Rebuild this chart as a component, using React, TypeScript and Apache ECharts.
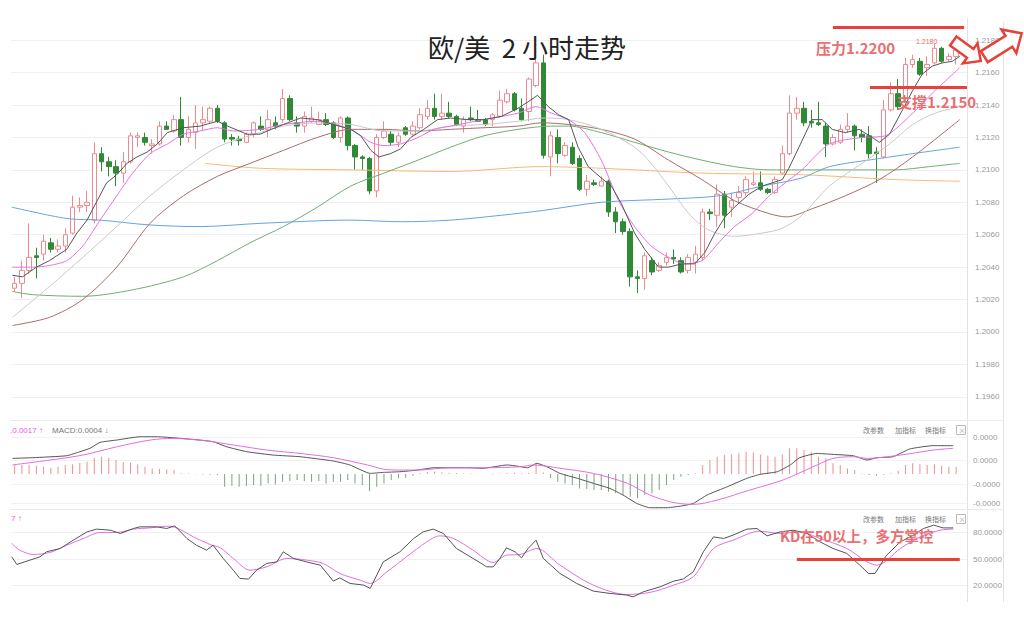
import React, { useEffect, useRef } from "react";
import * as echarts from "echarts";

// ---------- candles (EUR/USD, 2h) ----------
const opens = [
  1.2027, 1.2030, 1.2038, 1.2047, 1.2048, 1.2055, 1.2051, 1.2053, 1.2061, 1.2077,
  1.2078, 1.2069, 1.2110, 1.2105, 1.2102, 1.2098, 1.2105, 1.2120, 1.2120, 1.2115,
  1.2116, 1.2127, 1.2124, 1.2131, 1.2120, 1.2123, 1.2129, 1.2130, 1.2138, 1.2129,
  1.2120, 1.2119, 1.2117, 1.2122, 1.2127, 1.2125, 1.2129, 1.2131, 1.2144, 1.2129,
  1.2127, 1.2130, 1.2128, 1.2131, 1.2129, 1.2120, 1.2132, 1.2115, 1.2108, 1.2107,
  1.2087, 1.2120, 1.2122, 1.2117, 1.2126, 1.2122, 1.2126, 1.2133, 1.2138, 1.2133,
  1.2135, 1.2133, 1.2127, 1.2132, 1.2131, 1.2131, 1.2131, 1.2133, 1.2142, 1.2147,
  1.2138, 1.2136, 1.2152, 1.2166, 1.2108, 1.2120, 1.2109, 1.2114, 1.2107, 1.2088,
  1.2092, 1.2090, 1.2093, 1.2074, 1.2068, 1.2062, 1.2034, 1.2033, 1.2044, 1.2038,
  1.2043, 1.2046, 1.2044, 1.2038, 1.2043, 1.2046, 1.2074, 1.2072, 1.2085, 1.2077,
  1.2083, 1.2086, 1.2091, 1.2092, 1.2088, 1.2086, 1.2098, 1.2110, 1.2135, 1.2138,
  1.2130, 1.2129, 1.2127, 1.2116, 1.2117, 1.2125, 1.2127, 1.2122, 1.2121, 1.2111,
  1.2108, 1.2137, 1.2147, 1.2144, 1.2165, 1.2167, 1.2163, 1.2166, 1.2175, 1.2168,
  1.2170,
];
const closes = [
  1.2030, 1.2038, 1.2046, 1.2046, 1.2056, 1.2051, 1.2053, 1.2060, 1.2077, 1.2078,
  1.2080, 1.2110, 1.2105, 1.2102, 1.2098, 1.2105, 1.2121, 1.2121, 1.2117, 1.2116,
  1.2127, 1.2125, 1.2131, 1.2120, 1.2125, 1.2129, 1.2131, 1.2138, 1.2130, 1.2119,
  1.2119, 1.2118, 1.2122, 1.2129, 1.2125, 1.2131, 1.2127, 1.2144, 1.2131, 1.2127,
  1.2133, 1.2132, 1.2131, 1.2128, 1.2120, 1.2132, 1.2115, 1.2108, 1.2107, 1.2087,
  1.2120, 1.2124, 1.2117, 1.2121, 1.2122, 1.2127, 1.2134, 1.2138, 1.2133, 1.2135,
  1.2133, 1.2128, 1.2131, 1.2131, 1.2130, 1.2128, 1.2134, 1.2143, 1.2147, 1.2137,
  1.2131, 1.2156, 1.2166, 1.2109, 1.2121, 1.2110, 1.2115, 1.2104, 1.2088, 1.2093,
  1.2091, 1.2093, 1.2074, 1.2068, 1.2062, 1.2034, 1.2033, 1.2047, 1.2037, 1.2041,
  1.2046, 1.2045, 1.2037, 1.2046, 1.2048, 1.2074, 1.2073, 1.2085, 1.2072, 1.2081,
  1.2086, 1.2094, 1.2092, 1.2088, 1.2086, 1.2094, 1.2110, 1.2135, 1.2138, 1.2129,
  1.2129, 1.2128, 1.2116, 1.2120, 1.2125, 1.2127, 1.2121, 1.2120, 1.2110, 1.2110,
  1.2137, 1.2147, 1.2139, 1.2165, 1.2168, 1.2159, 1.2165, 1.2175, 1.2167, 1.2170,
  1.2174,
];
const lows = [
  1.2025, 1.2021, 1.2036, 1.2033, 1.2044, 1.2049, 1.2049, 1.2049, 1.2060, 1.2074,
  1.2074, 1.2067, 1.2099, 1.2096, 1.2090, 1.2092, 1.2104, 1.2114, 1.2115, 1.2110,
  1.2115, 1.2125, 1.2123, 1.2115, 1.2117, 1.2113, 1.2124, 1.2129, 1.2129, 1.2117,
  1.2115, 1.2115, 1.2117, 1.2120, 1.2124, 1.2120, 1.2125, 1.2129, 1.2130, 1.2123,
  1.2123, 1.2129, 1.2128, 1.2127, 1.2119, 1.2117, 1.2112, 1.2100, 1.2100, 1.2085,
  1.2083, 1.2119, 1.2115, 1.2114, 1.2121, 1.2121, 1.2125, 1.2131, 1.2131, 1.2131,
  1.2132, 1.2127, 1.2123, 1.2130, 1.2130, 1.2127, 1.2127, 1.2132, 1.2141, 1.2136,
  1.2130, 1.2130, 1.2151, 1.2107, 1.2096, 1.2104, 1.2108, 1.2103, 1.2087, 1.2084,
  1.2090, 1.2090, 1.2071, 1.2061, 1.2060, 1.2028, 1.2024, 1.2026, 1.2035, 1.2037,
  1.2041, 1.2042, 1.2036, 1.2036, 1.2036, 1.2044, 1.2069, 1.2065, 1.2064, 1.2071,
  1.2080, 1.2084, 1.2090, 1.2087, 1.2085, 1.2085, 1.2097, 1.2109, 1.2131, 1.2127,
  1.2126, 1.2127, 1.2108, 1.2115, 1.2116, 1.2123, 1.2112, 1.2117, 1.2107, 1.2092,
  1.2107, 1.2136, 1.2137, 1.2142, 1.2163, 1.2158, 1.2158, 1.2165, 1.2166, 1.2167,
  1.2165,
];
const highs = [
  1.2034, 1.2044, 1.2067, 1.2052, 1.2060, 1.2058, 1.2057, 1.2064, 1.2084, 1.2083,
  1.2087, 1.2117, 1.2114, 1.2108, 1.2106, 1.2111, 1.2123, 1.2123, 1.2123, 1.2119,
  1.2130, 1.2130, 1.2134, 1.2145, 1.2133, 1.2140, 1.2139, 1.2139, 1.2140, 1.2130,
  1.2122, 1.2121, 1.2123, 1.2130, 1.2133, 1.2137, 1.2133, 1.2150, 1.2146, 1.2133,
  1.2136, 1.2139, 1.2136, 1.2135, 1.2130, 1.2133, 1.2133, 1.2116, 1.2109, 1.2108,
  1.2122, 1.2130, 1.2124, 1.2123, 1.2127, 1.2130, 1.2138, 1.2143, 1.2147, 1.2147,
  1.2142, 1.2134, 1.2133, 1.2139, 1.2137, 1.2132, 1.2135, 1.2149, 1.2150, 1.2148,
  1.2144, 1.2157, 1.2170, 1.2171, 1.2124, 1.2125, 1.2117, 1.2117, 1.2109, 1.2097,
  1.2094, 1.2096, 1.2094, 1.2077, 1.2070, 1.2064, 1.2038, 1.2049, 1.2046, 1.2043,
  1.2049, 1.2051, 1.2046, 1.2048, 1.2053, 1.2076, 1.2076, 1.2091, 1.2087, 1.2086,
  1.2090, 1.2096, 1.2099, 1.2099, 1.2089, 1.2096, 1.2115, 1.2146, 1.2145, 1.2142,
  1.2137, 1.2142, 1.2129, 1.2122, 1.2128, 1.2135, 1.2128, 1.2125, 1.2127, 1.2114,
  1.2143, 1.2154, 1.2156, 1.2169, 1.2171, 1.2169, 1.2170, 1.2178, 1.2176, 1.2172,
  1.2180,
];
const SLOT_COUNT = 132; // 131 candles + one empty slot at the right edge
const slotLabels = Array.from({ length: SLOT_COUNT }, (_, i) => String(i + 1));

// ---------- moving averages: [candle index, price] ----------
const ma5 = [
  [-0.3, 1.2035], [1.1, 1.2034], [3, 1.204], [4.8, 1.2044], [7.2, 1.2051], [8.6, 1.2061], [10, 1.2069],
  [11.4, 1.2081], [12.7, 1.2092], [14.1, 1.2097], [15.5, 1.2104], [16.9, 1.2108], [18.3, 1.2111],
  [19.7, 1.2116], [21.1, 1.2123], [23.3, 1.2126], [25.6, 1.2127], [28, 1.213], [29.4, 1.2127],
  [32.1, 1.2122], [33.9, 1.2122], [34.9, 1.2124], [37.1, 1.2128], [39.5, 1.2132], [41.8, 1.2131],
  [44, 1.2128], [46.4, 1.2125], [47.8, 1.2121], [49.2, 1.2112], [50.3, 1.2108], [51.9, 1.211],
  [53.3, 1.2113], [54.7, 1.212], [56.5, 1.2125], [58.4, 1.2131], [60.2, 1.2132], [62.6, 1.2131],
  [64.8, 1.2131], [67.2, 1.2133], [69.5, 1.2138], [70.9, 1.2142], [72.2, 1.2146], [73.7, 1.2139],
  [75.1, 1.2134], [76.5, 1.2131], [77.8, 1.2114], [79.2, 1.2102], [81, 1.2095], [82.4, 1.209],
  [83.8, 1.2079], [85.6, 1.2061], [87, 1.2051], [88.9, 1.204], [90.3, 1.204], [92.1, 1.2042],
  [93.9, 1.2042], [95.3, 1.2049], [96.7, 1.2061], [98.1, 1.2071], [99.4, 1.2077], [101.4, 1.2085],
  [103.2, 1.209], [104.6, 1.2092], [106, 1.2094], [106.9, 1.2101], [108.3, 1.2114], [110.1, 1.2131],
  [111.5, 1.2131], [112.9, 1.2125], [114.7, 1.2123], [116.6, 1.2125], [118.4, 1.212], [119.4, 1.2117],
  [120.8, 1.2122], [122.6, 1.2137], [124, 1.2149], [125.3, 1.2159], [126.7, 1.2164], [128.1, 1.2166],
  [129.5, 1.2167], [130.5, 1.217],
];
const ma10 = [
  [-0.3, 1.204], [2.5, 1.204], [4.8, 1.2041], [7.2, 1.2044], [9.4, 1.2053], [11.8, 1.2069], [14.1, 1.2084],
  [16.3, 1.2098], [18.7, 1.211], [21.1, 1.2116], [23.3, 1.2122], [25.6, 1.2124], [28, 1.2126],
  [30.2, 1.2124], [33.9, 1.2125], [37.1, 1.2128], [41.8, 1.213], [46.4, 1.2125], [49.2, 1.2117],
  [51, 1.2115], [53.3, 1.2116], [55.7, 1.212], [57.9, 1.2125], [60.2, 1.2127], [64.8, 1.2131],
  [69.5, 1.2135], [72, 1.2139], [74.1, 1.2135], [76.5, 1.2131], [78.7, 1.2123], [81, 1.2106],
  [83.4, 1.2081], [85.6, 1.2065], [87.9, 1.2053], [90.3, 1.2046], [92.5, 1.2042], [94.9, 1.2044],
  [97.2, 1.2055], [99.4, 1.2065], [101.8, 1.2073], [104.2, 1.2084], [106.4, 1.2092], [108.7, 1.21],
  [112.5, 1.2116], [117, 1.212], [120.2, 1.2121], [124, 1.2135], [127.1, 1.2149], [130.5, 1.2163],
];
const ma20 = [
  [-0.3, 1.2009], [4.8, 1.2028], [9.4, 1.2046], [14.1, 1.2065], [18.7, 1.2084], [23.3, 1.21], [28, 1.2114],
  [33.9, 1.2123], [37.1, 1.2127], [41.8, 1.2129], [46.4, 1.2128], [51, 1.2124], [55.7, 1.2124],
  [60.2, 1.2127], [64.8, 1.2128], [69.5, 1.213], [73.1, 1.2132], [76.5, 1.2131], [81, 1.2125],
  [85.6, 1.2114], [87.9, 1.2104], [90.3, 1.209], [93.1, 1.2073], [95.8, 1.2063], [99.4, 1.2059],
  [103.2, 1.2061], [106, 1.2064], [108.7, 1.2072], [112.5, 1.209], [117, 1.2104], [120.8, 1.2116],
  [124, 1.2128], [127.1, 1.2135], [130.5, 1.2139],
];
const ma30 = [
  [-0.3, 1.2004], [4.8, 1.2009], [9.4, 1.202], [14.1, 1.204], [18.7, 1.2067], [23.3, 1.2084], [28, 1.2096],
  [32.5, 1.2104], [37.1, 1.2112], [41.8, 1.212], [46.4, 1.2125], [51, 1.2125], [55.7, 1.2124],
  [60.2, 1.2125], [64.8, 1.2126], [69.5, 1.2127], [72.7, 1.2129], [76.5, 1.2128], [81, 1.2125],
  [85.6, 1.2119], [90.3, 1.2106], [94.9, 1.2094], [99.4, 1.2081], [104.2, 1.2073], [106.6, 1.2071],
  [110.1, 1.2076], [114.7, 1.2084], [119.4, 1.2094], [124, 1.2108], [130.5, 1.2131],
];
const ma60 = [
  [-0.3, 1.2025], [2.5, 1.2023], [9.4, 1.2022], [16.3, 1.2026], [23.3, 1.2034], [28, 1.2044], [32.5, 1.2055],
  [37.1, 1.2065], [41.8, 1.2077], [46.4, 1.209], [51, 1.2098], [55.7, 1.2106], [60.2, 1.2114],
  [64.8, 1.2121], [69.5, 1.2125], [74.1, 1.2127], [76.5, 1.2127], [81, 1.2123], [85.6, 1.2117],
  [90.3, 1.2111], [94.9, 1.2106], [99.4, 1.2102], [104.2, 1.21], [112.5, 1.21], [121.6, 1.21],
  [126.3, 1.2102], [130.5, 1.2104],
];
const ma120 = [
  [-0.4, 1.2077], [7.2, 1.207], [11.8, 1.2069], [18.7, 1.2066], [25.6, 1.2065], [33.9, 1.2067],
  [46.4, 1.2069], [53.3, 1.2068], [60.2, 1.2069], [67.2, 1.2072], [73, 1.2075], [81, 1.208],
  [90.3, 1.2082], [97.2, 1.2084], [103.2, 1.209], [108.7, 1.2095], [112.5, 1.2102], [119.4, 1.2107],
  [124, 1.211], [130.5, 1.2114],
];
const ma200 = [
  [26.3, 1.2104], [33.9, 1.2101], [46.4, 1.21], [60.2, 1.2099], [72.7, 1.2102], [81, 1.2101],
  [94.9, 1.2098], [108.7, 1.2097], [121.6, 1.2094], [130.5, 1.2093],
];
const priceTicks = [1.196, 1.198, 1.2, 1.202, 1.204, 1.206, 1.208, 1.21, 1.212, 1.214, 1.216, 1.218];
const resistanceLine = [[113.0, 1.2188], [131.1, 1.2188]];
const supportLine = [[118.1, 1.2151], [131.5, 1.2151]];

// ---------- MACD ----------
// histogram, in units of 0.0001
const macdHist = [
  5.5, 5.5, 5.5, 5.0, 4.4, 3.8, 4.4, 5.5, 5.9, 6.9, 7.5, 9.9, 10.5, 9.9, 8.5, 7.1, 6.9, 5.9, 4.4, 3.4, 3.0, 2.8, 2.4,
  0.5, 0.3, -0.2, -0.3, -0.5, -0.6,
  -7.7, -7.1, -7.7, -7.3, -6.7, -7.1, -5.7, -6.3, -4.6, -4.2, -3.6, -4.2, -4.6, -4.2, -5.7, -4.6, -4.6, -3.6,
  -5.7, -6.7, -10.3, -7.7, -5.7, -3.6, -2.6, -2.2,
  -1.0, 0.5, 1.2, 1.5, 1.0, 0.8, 0.6, 0.4, 0.3, 0.2, -0.2, -0.3, 0.3, 0.6, 0.8, 0.5, 0.8,
  6.0, 1.0,
  -2.6, -4.6, -5.7, -6.7, -8.7, -9.1, -9.7, -9.7, -10.7, -11.7, -12.7, -13.7, -14.7, -12.7, -11.7, -9.7,
  -6.7, -3.6, -1.6, -0.6,
  0.3,
  5.5, 8.5, 10.5, 11.5, 11.9, 12.5, 13.5, 13.1, 11.9, 11.1, 10.5, 11.9, 15.6, 15.6, 14.5, 13.5, 10.5, 9.5,
  6.5, 5.5, 3.4, 2.4, 0.4,
  -0.6, -1.0, -0.5, 0.5, 2.0, 5.5, 6.5, 5.9, 5.5, 5.9, 5.0, 4.4, 4.4,
];
const difLine = [
  [-0.3, 0.00095], [2.5, 0.00099], [7.2, 0.00111], [9.0, 0.00135], [10.4, 0.00156], [11.8, 0.00192],
  [14.1, 0.00206], [17.3, 0.00226], [19.7, 0.00226], [21.9, 0.0022], [25.6, 0.00206], [27.4, 0.00196],
  [29.3, 0.00165], [32.1, 0.00135], [35.7, 0.00115], [39.4, 0.00105], [44, 0.00079], [46.3, 0.00055],
  [49.1, 0.00004], [50.9, 0.0001], [53.2, 0.00014], [55.6, 0.00024], [57.8, 0.00038], [62.5, 0.00038],
  [64.7, 0.00035], [68, 0.00055], [69.4, 0.00048], [70.8, 0.00038], [72.1, 0.00065], [73.5, 0.00044],
  [75.3, 0.00004], [77.7, -0.00026], [79.9, -0.00056], [82.2, -0.00087], [84, -0.00127], [85.9, -0.00178],
  [87.7, -0.00204], [90.1, -0.00204], [92.3, -0.00192], [93.7, -0.00178], [95.6, -0.00127], [98.4, -0.00077],
  [101.1, -0.00026], [102.9, -0.00002], [105.3, 0.00014], [107.1, 0.00055], [108.4, 0.00099], [110.8, 0.00125],
  [113, 0.00119], [115.8, 0.00111], [117.7, 0.00085], [119.1, 0.00099], [121.3, 0.00105], [123.6, 0.00152],
  [126.8, 0.00172], [129.6, 0.00172],
];
const deaLine = [
  [-0.3, 0.00055], [4.9, 0.00085], [9.4, 0.00115], [14.1, 0.00165], [18.7, 0.00206], [21.9, 0.00216],
  [26.6, 0.002], [30.2, 0.00176], [34.9, 0.00145], [39.4, 0.00125], [44, 0.00099], [48.7, 0.00055],
  [50.9, 0.0003], [53.2, 0.00024], [55.6, 0.00024], [60.1, 0.00038], [64.7, 0.00038], [69.8, 0.00044],
  [71.6, 0.00055], [75.3, 0.00035], [79.9, 0.00004], [84.6, -0.00056], [87.7, -0.00127], [90.9, -0.00172],
  [93.7, -0.00184], [97, -0.00158], [101.5, -0.00097], [106.1, -0.00036], [110.8, 0.00055], [113, 0.00095],
  [115.8, 0.00105], [117.7, 0.00095], [122.3, 0.00115], [126.8, 0.00145], [129.6, 0.00156],
];
const macdTickValues = [0.00224, 0.00082, -0.00061, -0.00176];
const macdTickLabels = ["0.0000", "0.0000", "-0.0000", "-0.0000"];

// ---------- KD ----------
const kLine = [
  [-0.4, 52.6], [0.3, 44.0], [3.5, 52.6], [4.4, 58.3], [6.3, 62.1], [8.1, 71.5], [10, 80.9], [11.3, 84.0],
  [13.2, 82.8], [14.6, 79.1], [16.4, 84.7], [17.3, 86.6], [19.6, 86.6], [21, 84.7], [22.1, 87.7], [23.8, 73.4],
  [25.1, 65.8], [26.5, 60.2], [27.4, 65.8], [28.8, 50.8], [30.2, 37.5], [31.1, 28.2], [32.3, 27.4], [33.4, 37.5],
  [34.8, 45.1], [36.2, 46.9], [37.1, 58.3], [38.5, 50.8], [40.3, 46.9], [42.2, 43.2], [44, 25.1], [44.9, 28.8],
  [46.3, 22.5], [48.2, 20.6], [49.1, 16.8], [50.9, 46.9], [53.2, 58.3], [55.1, 73.4], [56.4, 80.9], [57.8, 84.0],
  [59.2, 79.1], [61, 62.1], [63.3, 50.8], [65.2, 41.3], [66.1, 41.3], [67, 50.8], [67.9, 62.8], [69.1, 58.3],
  [70, 51.5], [70.9, 62.1], [72, 71.5], [73, 50.8], [75.3, 33.8], [77.6, 22.5], [79.9, 13.8], [82.2, 11.2],
  [84.5, 9.3], [85.4, 7.3], [86.8, 13.0], [89.1, 18.6], [91, 25.1], [92.3, 27.4], [93.7, 35.6], [95.1, 58.3],
  [96.5, 75.2], [97.9, 73.4], [99.2, 77.2], [101.1, 84.0], [102.5, 84.7], [103.9, 76.4], [105.7, 80.9],
  [107.5, 82.8], [109.4, 79.1], [111.2, 69.6], [113, 62.1], [114.9, 56.5], [116.7, 43.2], [117.9, 33.8],
  [118.8, 33.8], [120.4, 54.5], [122.3, 69.6], [124.1, 77.2], [125.5, 84.7], [126.9, 88.5], [128.2, 85.4],
  [129.6, 85.4],
];
const dLine = [
  [-0.4, 67.8], [0.7, 60.2], [2.6, 55.3], [4.9, 57.6], [7.2, 65.8], [9.5, 73.4], [11.8, 80.2], [14.1, 80.2],
  [16.4, 84.0], [18.7, 85.4], [21, 87.3], [22.4, 85.4], [24.7, 75.2], [27, 66.6], [28.4, 62.8], [30.2, 50.8],
  [32.5, 37.5], [34.8, 41.3], [37.6, 50.8], [40.3, 48.9], [42.6, 45.1], [44.9, 33.8], [47.7, 26.2], [49.1, 22.5],
  [51.4, 35.6], [54.1, 52.6], [56.9, 69.6], [58.7, 76.4], [60.6, 73.4], [63.3, 60.2], [66.1, 46.3], [67.9, 54.5],
  [69.8, 55.3], [72.1, 62.1], [75.3, 43.2], [79.9, 20.6], [84.5, 10.0], [87.7, 12.3], [91, 20.6], [93.7, 30.0],
  [96.5, 62.1], [99.2, 71.5], [102.9, 81.7], [105.7, 79.1], [108.4, 80.9], [111.2, 73.4], [114.9, 62.1],
  [117.7, 46.9], [119.1, 43.2], [122.3, 62.1], [125, 75.2], [127.8, 82.8], [129.6, 84.0],
];
const kdTicks = [20, 50, 80];
const kdLevelLine = [[108.0, 50], [130.5, 50]];

// ---------- styling ----------
const RED_LINE = "#e8403a";
const NOTE_RED = "#ea6e71";
const LABEL_FONT = "Liberation Sans";

function blockArrow(cx: number, cy: number, len: number, shaftHalf: number, headHalf: number, headLen: number, deg: number) {
  const a = (deg * Math.PI) / 180;
  const c = Math.cos(a);
  const s = Math.sin(a);
  const h = len / 2;
  const local = [
    [-h, -shaftHalf], [h - headLen, -shaftHalf], [h - headLen, -headHalf], [h, 0],
    [h - headLen, headHalf], [h - headLen, shaftHalf], [-h, shaftHalf],
  ];
  return local.map(([x, y]) => [cx + x * c - y * s, cy + x * s + y * c]);
}

function nearestLabel(v: number, values: number[], labels: string[]) {
  let best = 0;
  for (let i = 1; i < values.length; i++) {
    if (Math.abs(values[i] - v) < Math.abs(values[best] - v)) best = i;
  }
  return labels[best];
}

function toolbar(y: number) {
  const st = { fill: "#777", fontSize: 7, fontFamily: "Noto Sans CJK SC" };
  return [
    { type: "text", x: 863, y, style: { ...st, text: "改参数" } },
    { type: "text", x: 895, y, style: { ...st, text: "加指标" } },
    { type: "text", x: 925, y, style: { ...st, text: "换指标" } },
    { type: "rect", shape: { x: 956.5, y: y - 0.5, width: 9, height: 9 }, style: { fill: "#fff", stroke: "#bbb", lineWidth: 1 } },
    { type: "text", x: 958.5, y: y, style: { ...st, text: "×", fill: "#999" } },
  ];
}

export default function App() {
  const ref = useRef<HTMLDivElement>(null);

  useEffect(() => {
    if (!ref.current) return;
    const chart = echarts.init(ref.current, null, { renderer: "svg" });

    const candleData = opens.map((o, i) => [o, closes[i], lows[i], highs[i]]);
    const histData = macdHist.map((v) => ({
      value: v / 10000,
      itemStyle: { color: v >= 0 ? "#ee8e90" : "#7f9f80" },
    }));

    const maLine = (name: string, data: number[][], color: string, smooth: number | boolean) => ({
      name,
      type: "line",
      xAxisIndex: 1,
      yAxisIndex: 0,
      data,
      showSymbol: false,
      smooth,
      lineStyle: { color, width: 1 },
      silent: true,
      z: 3,
    });

    const gridLeft = 11;
    const gridWidth = 956;

    const option: any = {
      animation: false,
      backgroundColor: "#ffffff",
      title: {
        text: "欧/美  2 小时走势",
        left: 423,
        top: 28,
        textStyle: { fontSize: 26, fontWeight: "normal", color: "#222", fontFamily: "Noto Sans CJK SC" },
      },
      grid: [
        { left: gridLeft, width: gridWidth, top: 24, height: 389 },
        { left: gridLeft, width: gridWidth, top: 428, height: 84 },
        { left: gridLeft, width: gridWidth, top: 515, height: 88.3 },
      ],
      xAxis: [
        { type: "category", gridIndex: 0, data: slotLabels, show: false, boundaryGap: true },
        { type: "value", gridIndex: 0, min: -0.5, max: SLOT_COUNT - 0.5, show: false },
        { type: "category", gridIndex: 1, data: slotLabels, show: false, boundaryGap: true },
        { type: "value", gridIndex: 1, min: -0.5, max: SLOT_COUNT - 0.5, show: false },
        { type: "value", gridIndex: 2, min: -0.5, max: SLOT_COUNT - 0.5, show: false },
      ],
      yAxis: [
        {
          type: "value", gridIndex: 0, position: "right", min: 1.195, max: 1.219, scale: true,
          axisLine: { show: false },
          axisTick: { show: false, customValues: priceTicks },
          axisLabel: {
            customValues: priceTicks, formatter: (v: number) => v.toFixed(4),
            fontSize: 8, color: "#9a9a9a", margin: 8, fontFamily: LABEL_FONT,
          },
          splitLine: { show: true, lineStyle: { color: "#f0f0f0", width: 1 } },
        },
        {
          type: "value", gridIndex: 1, position: "right", min: -0.0023, max: 0.00279,
          axisLine: { show: false },
          axisTick: { show: false, customValues: macdTickValues },
          axisLabel: {
            customValues: macdTickValues,
            formatter: (v: number) => nearestLabel(v, macdTickValues, macdTickLabels),
            fontSize: 8, color: "#9a9a9a", margin: 6, fontFamily: LABEL_FONT,
          },
          splitLine: { show: true, lineStyle: { color: "#f2f2f2", width: 1 } },
        },
        {
          type: "value", gridIndex: 2, position: "right", min: 0, max: 100,
          axisLine: { show: false },
          axisTick: { show: false, customValues: kdTicks },
          axisLabel: {
            customValues: kdTicks, formatter: (v: number) => v.toFixed(4),
            fontSize: 8, color: "#9a9a9a", margin: 6, fontFamily: LABEL_FONT,
          },
          splitLine: { show: true, lineStyle: { color: "#f0f0f0", width: 1 } },
        },
      ],
      series: [
        {
          name: "K线",
          type: "candlestick",
          xAxisIndex: 0,
          yAxisIndex: 0,
          data: candleData,
          barWidth: 5,
          silent: true,
          itemStyle: {
            color: "#ffffff",
            color0: "#2f8a36",
            borderColor: "#ec8a8f",
            borderColor0: "#2f8a36",
            borderWidth: 1,
          },
          z: 2,
        },
        maLine("MA200", ma200, "#f6b877", 0.3),
        maLine("MA120", ma120, "#63a4e0", 0.3),
        maLine("MA60", ma60, "#6fae6f", 0.3),
        maLine("MA30", ma30, "#a86d6d", 0.3),
        maLine("MA20", ma20, "#c9c9c9", 0.3),
        maLine("MA10", ma10, "#e671e6", 0.25),
        {
          ...maLine("MA5", ma5, "#555555", false),
          markLine: {
            silent: true,
            symbol: ["none", "none"],
            label: { show: false },
            lineStyle: { color: RED_LINE, width: 3, type: "solid" },
            data: [
              [{ coord: resistanceLine[0] }, { coord: resistanceLine[1] }],
              [{ coord: supportLine[0] }, { coord: supportLine[1] }],
            ],
          },
        },
        {
          name: "MACD",
          type: "bar",
          xAxisIndex: 2,
          yAxisIndex: 1,
          data: histData,
          barWidth: 1,
          silent: true,
        },
        {
          name: "DIF", type: "line", xAxisIndex: 3, yAxisIndex: 1, data: difLine,
          showSymbol: false, smooth: 0.15, lineStyle: { color: "#555", width: 1 }, silent: true,
        },
        {
          name: "DEA", type: "line", xAxisIndex: 3, yAxisIndex: 1, data: deaLine,
          showSymbol: false, smooth: 0.3, lineStyle: { color: "#e26ee2", width: 1 }, silent: true,
        },
        {
          name: "D", type: "line", xAxisIndex: 4, yAxisIndex: 2, data: dLine,
          showSymbol: false, smooth: 0.3, lineStyle: { color: "#e26ee2", width: 1 }, silent: true,
        },
        {
          name: "K", type: "line", xAxisIndex: 4, yAxisIndex: 2, data: kLine,
          showSymbol: false, smooth: false, lineStyle: { color: "#555", width: 1 }, silent: true,
          markLine: {
            silent: true,
            symbol: ["none", "none"],
            label: { show: false },
            lineStyle: { color: RED_LINE, width: 3, type: "solid" },
            data: [[{ coord: kdLevelLine[0] }, { coord: kdLevelLine[1] }]],
          },
        },
      ],
      graphic: [
        // panel frame lines
        { type: "line", shape: { x1: 967.5, y1: 18, x2: 967.5, y2: 602 }, style: { stroke: "#e2e2e2", lineWidth: 1 }, silent: true },
        { type: "line", shape: { x1: 1003.5, y1: 22, x2: 1003.5, y2: 602 }, style: { stroke: "#e2e2e2", lineWidth: 1 }, silent: true },
        { type: "line", shape: { x1: 10, y1: 420.5, x2: 1003, y2: 420.5 }, style: { stroke: "#ebebeb", lineWidth: 1 }, silent: true },
        { type: "line", shape: { x1: 10, y1: 509.5, x2: 1003, y2: 509.5 }, style: { stroke: "#ebebeb", lineWidth: 1 }, silent: true },
        // indicator headers
        { type: "text", x: 10, y: 426, style: { text: ".0.0017 ↑", fill: "#e65ce6", fontSize: 8, fontFamily: LABEL_FONT } },
        { type: "text", x: 52, y: 426, style: { text: "MACD:0.0004 ↓", fill: "#777", fontSize: 8, fontFamily: LABEL_FONT } },
        { type: "text", x: 11, y: 514, style: { text: "7 ↑", fill: "#e65ce6", fontSize: 8, fontFamily: LABEL_FONT } },
        ...toolbar(426),
        ...toolbar(515),
        // annotations
        { type: "text", x: 916, y: 38, z: 20, style: { text: "1.2180", fill: NOTE_RED, fontSize: 7, fontFamily: LABEL_FONT } },
        {
          type: "text", x: 816, y: 40, z: 20,
          style: { text: "压力1.2200", fill: NOTE_RED, fontSize: 15, fontWeight: "bold", fontFamily: "Noto Sans CJK SC" },
        },
        {
          type: "text", x: 897, y: 94, z: 20,
          style: { text: "支撑1.2150", fill: NOTE_RED, fontSize: 15, fontWeight: "bold", fontFamily: "Noto Sans CJK SC" },
        },
        {
          type: "text", x: 780, y: 528, z: 20,
          style: { text: "KD在50以上，多方掌控", fill: NOTE_RED, fontSize: 14.5, fontWeight: "bold", fontFamily: "Noto Sans CJK SC" },
        },
        {
          type: "polygon", z: 20,
          shape: { points: blockArrow(967, 51, 34, 5.5, 12.5, 13, 36) },
          style: { fill: "#ffffff", stroke: RED_LINE, lineWidth: 2.5 },
        },
        {
          type: "polygon", z: 20,
          shape: { points: blockArrow(1003, 45, 44, 6.5, 14, 15, -32) },
          style: { fill: "#ffffff", stroke: RED_LINE, lineWidth: 2.5 },
        },
      ],
    };

    chart.setOption(option);
    return () => chart.dispose();
  }, []);

  return (
    <div
      ref={ref}
      style={{ position: "absolute", left: 0, top: 0, width: 1024, height: 624, background: "#fff" }}
    />
  );
}
